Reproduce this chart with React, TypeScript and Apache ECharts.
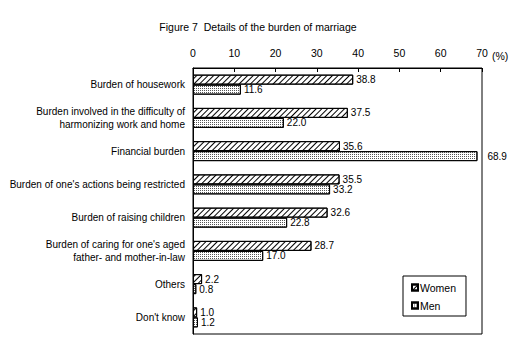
import React, { useEffect, useRef } from "react";
import * as echarts from "echarts";

const categories = [
  "Burden of housework",
  "Burden involved in the difficulty of\nharmonizing work and home",
  "Financial burden",
  "Burden of one's actions being restricted",
  "Burden of raising children",
  "Burden of caring for one's aged\nfather- and mother-in-law",
  "Others",
  "Don't know",
];
const women = [38.8, 37.5, 35.6, 35.5, 32.6, 28.7, 2.2, 1.0];
const men = [11.6, 22.0, 68.9, 33.2, 22.8, 17.0, 0.8, 1.2];
const xTicks = [0, 10, 20, 30, 40, 50, 60, 70];

const FONT = "'Liberation Sans', Arial, sans-serif";

export default function App() {
  const ref = useRef<HTMLDivElement>(null);
  useEffect(() => {
    document.body.style.margin = "0";
    if (!ref.current) return;
    const chart = echarts.init(ref.current, null, { renderer: "svg" });
    const label = {
      show: true,
      position: "right" as const,
      distance: 3,
      color: "#000",
      fontSize: 10,
      fontFamily: FONT,
      formatter: (p: any) => Number(p.value).toFixed(1),
    };
    const xMax = xTicks[xTicks.length - 1];
    // labels of bars reaching close to the right border are pushed outside it
    const toItems = (arr: number[]) =>
      arr.map((v) => (v > xMax - 5 ? { value: v, label: { distance: 10 } } : v));
    chart.setOption({
      animation: false,
      backgroundColor: "#fff",
      textStyle: { fontFamily: FONT },
      title: {
        text: "Figure 7  Details of the burden of marriage",
        left: 253,
        textAlign: "center",
        top: 16,
        textStyle: { fontSize: 10.5, fontWeight: "normal", color: "#000", fontFamily: FONT },
      },
      legend: {
        orient: "vertical",
        left: 403,
        top: 276,
        padding: [6, 10, 5, 8],
        itemGap: 7,
        itemWidth: 6,
        itemHeight: 6,
        icon: "rect",
        borderColor: "#000",
        borderWidth: 1,
        textStyle: { fontSize: 10.5, color: "#000", fontFamily: FONT, padding: [0, 0, 0, -3] },
        data: ["Women", "Men"],
      },
      graphic: [
        {
          type: "text",
          left: 492,
          top: 50,
          style: { text: "(%)", fontSize: 10.5, fill: "#000", fontFamily: FONT },
        },
      ],
      grid: {
        left: 193,
        right: 42,
        top: 68,
        bottom: 26,
        outerBoundsMode: "none",
        containLabel: false,
        show: true,
        borderColor: "#000",
        borderWidth: 1,
        backgroundColor: "transparent",
      },
      xAxis: {
        type: "value",
        position: "top",
        min: xTicks[0],
        max: xMax,
        interval: 10,
        axisLine: { show: true, lineStyle: { color: "#000", width: 1 } },
        axisTick: { show: true, inside: true, length: 4, lineStyle: { color: "#000" } },
        splitLine: { show: false },
        axisLabel: { color: "#000", fontSize: 10.5, margin: 10, fontFamily: FONT },
      },
      yAxis: {
        type: "category",
        inverse: true,
        data: categories,
        axisLine: { show: true, lineStyle: { color: "#000" } },
        axisTick: { show: false },
        axisLabel: { color: "#000", fontSize: 10, margin: 8, fontFamily: FONT, lineHeight: 13, align: "right" },
      },
      series: [
        {
          name: "Women",
          type: "bar",
          data: toItems(women),
          barWidth: 10,
          barGap: "0%",
          itemStyle: {
            color: "#fff",
            borderColor: "#000",
            borderWidth: 1,
            decal: {
              symbol: "rect",
              color: "#000",
              dashArrayX: [1, 0],
              dashArrayY: [1, 3],
              rotation: -Math.PI / 4,
            },
          },
          label,
        },
        {
          name: "Men",
          type: "bar",
          data: toItems(men),
          barWidth: 10,
          itemStyle: {
            color: "#fff",
            borderColor: "#000",
            borderWidth: 1,
            decal: {
              symbol: "rect",
              symbolSize: 1,
              color: "#555",
              dashArrayX: [1, 1],
              dashArrayY: [1, 1],
              rotation: 0,
            },
          },
          label,
        },
      ],
    });
    return () => chart.dispose();
  }, []);
  return <div ref={ref} style={{ width: 524, height: 360 }} />;
}
